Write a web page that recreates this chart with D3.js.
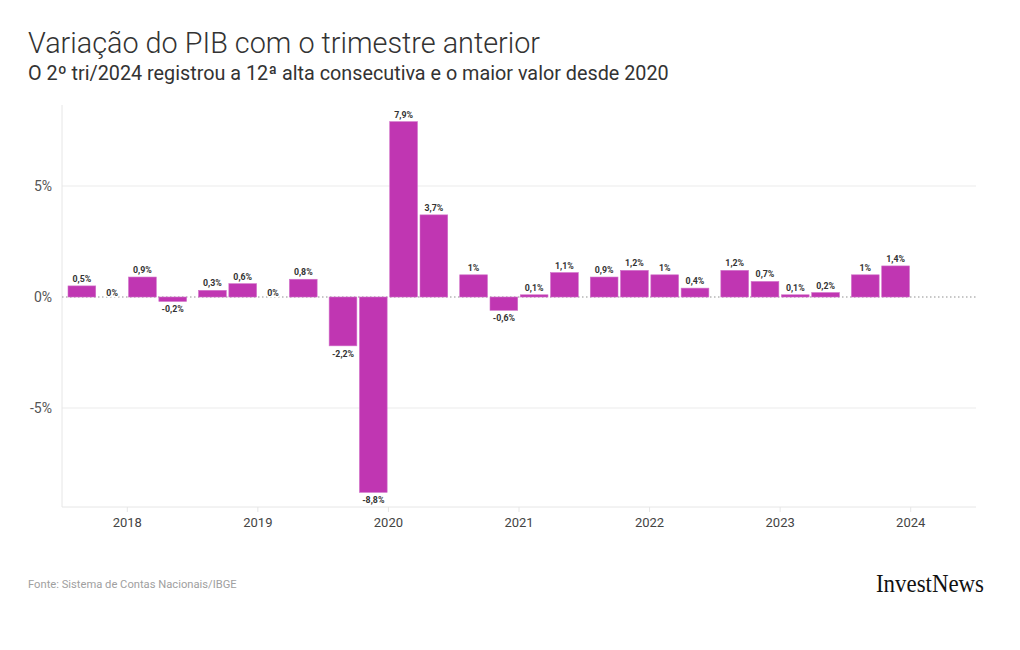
<!DOCTYPE html>
<html>
<head>
<meta charset="utf-8">
<script src="https://cdn.jsdelivr.net/npm/d3@7"></script>
<style>
  html, body { margin: 0; padding: 0; background: #fff; }
  svg { display: block; }
</style>
</head>
<body>
<svg id="chart" width="1020" height="650"></svg>
<script>
// ---- data ----
const years = [2018, 2019, 2020, 2021, 2022, 2023, 2024];
const quarters = [1, 2, 3, 4];
const periods = [
  "2018-1","2018-2","2018-3","2018-4",
  "2019-1","2019-2","2019-3","2019-4",
  "2020-1","2020-2","2020-3","2020-4",
  "2021-1","2021-2","2021-3","2021-4",
  "2022-1","2022-2","2022-3","2022-4",
  "2023-1","2023-2","2023-3","2023-4",
  "2024-1","2024-2"
];
const values = [
  0.5, 0.0, 0.9, -0.2,
  0.3, 0.6, 0.0, 0.8,
  -2.2, -8.8, 7.9, 3.7,
  1.0, -0.6, 0.1, 1.1,
  0.9, 1.2, 1.0, 0.4,
  1.2, 0.7, 0.1, 0.2,
  1.0, 1.4
];
const yTicks = [-5, 0, 5];
const title = "Variação do PIB com o trimestre anterior";
const subtitle = "O 2º tri/2024 registrou a 12ª alta consecutiva e o maior valor desde 2020";
const source = "Fonte: Sistema de Contas Nacionais/IBGE";

const data = periods.map((p, i) => {
  const [yr, q] = p.split("-").map(Number);
  return { year: yr, q: q, value: values[i] };
});

const fmt = v => String(v).replace(".", ",") + "%";

// ---- layout ----
const svg = d3.select("#chart");
const pL = 62, pR = 976, pT = 105, pB = 507;

const x = d3.scaleBand().domain(years).range([pL, pR]).padding(0);
const xq = d3.scaleBand().domain(quarters).range([6, x.bandwidth() - 6]).paddingInner(0.085);
const y = d3.scaleLinear().domain([-9.46, 8.65]).range([pB, pT]);

// title
svg.append("text").attr("x", 28).attr("y", 53)
  .attr("font-family", "Roboto, 'Noto Sans', sans-serif")
  .attr("font-weight", 300).attr("font-size", 28.8).attr("fill", "#333")
  .text(title);
svg.append("text").attr("x", 28).attr("y", 80)
  .attr("font-family", "Roboto, 'Noto Sans', sans-serif")
  .attr("font-weight", 400).attr("font-size", 19.8).attr("fill", "#333")
  .text(subtitle);

// gridlines
const g = svg.append("g");
g.selectAll("line.grid").data(yTicks.filter(d => d !== 0)).join("line")
  .attr("x1", pL).attr("x2", pR)
  .attr("y1", d => y(d)).attr("y2", d => y(d))
  .attr("stroke", "#ebebeb").attr("stroke-width", 1);

// left and bottom frame lines
g.append("line").attr("x1", pL).attr("x2", pL).attr("y1", pT).attr("y2", pB)
  .attr("stroke", "#e6e6e6");
g.append("line").attr("x1", pL).attr("x2", pR).attr("y1", pB).attr("y2", pB)
  .attr("stroke", "#e6e6e6");

// y tick labels
g.selectAll("text.ytick").data(yTicks).join("text")
  .attr("x", 52).attr("y", d => y(d)).attr("dy", "0.35em")
  .attr("text-anchor", "end")
  .attr("font-family", "Roboto, 'Noto Sans', sans-serif")
  .attr("font-size", 14).attr("fill", "#555")
  .text(d => d + "%");

// x axis ticks and labels
const xg = svg.append("g");
xg.selectAll("line.xt").data(years).join("line")
  .attr("x1", d => x(d) + x.bandwidth() / 2).attr("x2", d => x(d) + x.bandwidth() / 2)
  .attr("y1", pB).attr("y2", pB + 5)
  .attr("stroke", "#e6e6e6");
xg.selectAll("text.xl").data(years).join("text")
  .attr("x", d => x(d) + x.bandwidth() / 2).attr("y", pB + 20)
  .attr("text-anchor", "middle")
  .attr("font-family", "Roboto, 'Noto Sans', sans-serif")
  .attr("font-size", 13).attr("fill", "#444")
  .text(d => d);

// zero line (dotted)
svg.append("line").attr("x1", pL).attr("x2", pR)
  .attr("y1", y(0)).attr("y2", y(0))
  .attr("stroke", "#b5b5b5").attr("stroke-width", 1.5)
  .attr("stroke-dasharray", "1.5,2.5");

// bars
svg.append("g").selectAll("rect").data(data).join("rect")
  .attr("x", d => x(d.year) + xq(d.q))
  .attr("width", xq.bandwidth())
  .attr("y", d => y(Math.max(0, d.value)))
  .attr("height", d => Math.abs(y(d.value) - y(0)))
  .attr("fill", "#c036b2")
  .attr("stroke", "#d070c8").attr("stroke-width", 0.6);

// value labels
svg.append("g").selectAll("text").data(data).join("text")
  .attr("x", d => x(d.year) + xq(d.q) + xq.bandwidth() / 2)
  .attr("y", d => d.value > 0 ? y(d.value) - 4 : (d.value < 0 ? y(d.value) + 11 : y(0) - 1))
  .attr("text-anchor", "middle")
  .attr("font-family", "Roboto, 'Noto Sans', sans-serif")
  .attr("font-weight", 700).attr("font-size", 8.8).attr("fill", "#333")
  .attr("paint-order", "stroke").attr("stroke", "#fff").attr("stroke-width", d => d.value === 0 ? 3 : 0)
  .text(d => fmt(d.value));

// footer
svg.append("text").attr("x", 28).attr("y", 588)
  .attr("font-family", "Roboto, 'Noto Sans', sans-serif")
  .attr("font-size", 11.2).attr("fill", "#a0a0a0")
  .text(source);
svg.append("text").attr("x", 984).attr("y", 592)
  .attr("text-anchor", "end")
  .attr("font-family", "'Liberation Serif', 'DejaVu Serif', serif")
  .attr("font-size", 26).attr("fill", "#111")
  .attr("textLength", 108).attr("lengthAdjust", "spacingAndGlyphs")
  .text("InvestNews");
</script>
</body>
</html>
